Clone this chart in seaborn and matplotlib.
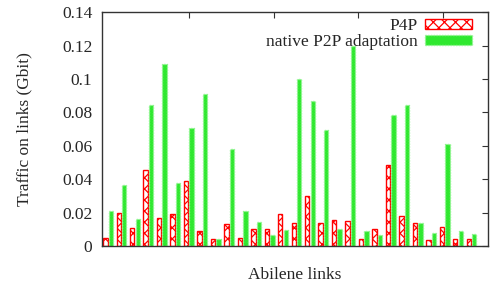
import matplotlib
matplotlib.use("Agg")
import matplotlib.pyplot as plt
import seaborn as sns
import pandas as pd
from matplotlib.patches import Patch
from matplotlib.ticker import FuncFormatter

links = [str(i) for i in range(1, 29)]
p4p = [0.005, 0.0198, 0.011, 0.0453, 0.017, 0.0194, 0.0391, 0.0092, 0.004, 0.0134,
       0.005, 0.0104, 0.0104, 0.0194, 0.014, 0.0297, 0.014, 0.0158, 0.0148, 0.0044,
       0.0104, 0.0487, 0.0178, 0.014, 0.0038, 0.0112, 0.0044, 0.0044]
p2p = [0.0208, 0.0363, 0.016, 0.0842, 0.1092, 0.0377, 0.0709, 0.0908, 0.004, 0.0583,
       0.0208, 0.0144, 0.0064, 0.0094, 0.0998, 0.0866, 0.0694, 0.010, 0.120, 0.0088,
       0.0064, 0.0782, 0.0846, 0.014, 0.008, 0.061, 0.0088, 0.007]
series = ["P4P", "native P2P adaptation"]
yticks = [0, 0.02, 0.04, 0.06, 0.08, 0.1, 0.12, 0.14]

df = pd.DataFrame({
    "link": links * 2,
    "value": p4p + p2p,
    "series": [series[0]] * len(links) + [series[1]] * len(links),
})

sns.set_style("white")
plt.rcParams["font.family"] = ["Liberation Serif", "DejaVu Serif"]
plt.rcParams["font.size"] = 12.5
plt.rcParams["hatch.linewidth"] = 0.9

RED = "#ff0000"
GREEN = "#2fe82f"
GREEN_EDGE = "#8ff58f"
FS = 12.5

fig = plt.figure(figsize=(4.94, 2.82), dpi=100)
ax = fig.add_axes([0.2065, 0.1277, 0.782, 0.8293])

sns.barplot(data=df, x="link", y="value", hue="series", hue_order=series,
            width=0.82, gap=0.2, ax=ax, legend=False, saturation=1)

for bar in ax.containers[0]:
    bar.set_facecolor("white")
    bar.set_edgecolor(RED)
    bar.set_hatch("xxx")
    bar.set_linewidth(1.0)
for bar in ax.containers[1]:
    bar.set_facecolor(GREEN)
    bar.set_edgecolor(GREEN_EDGE)
    bar.set_linestyle((0, (1, 1)))
    bar.set_linewidth(1.0)

ax.set_xlim(-0.45, 28.25)
ax.set_ylim(0, 0.14)
ax.set_yticks(yticks)
ax.yaxis.set_major_formatter(FuncFormatter(lambda v, p: "%g" % round(v, 4)))
ax.set_xticks([6.02, 12.3, 18.6, 24.85])
ax.set_xticklabels([])
ax.tick_params(axis="both", direction="in", length=4, width=0.8, color="#333333",
               top=True, right=True, labelsize=FS, pad=7)
for s in ax.spines.values():
    s.set_color("#333333")
    s.set_linewidth(1.0)

ax.set_ylabel("Traffic on links (Gbit)", fontsize=FS, labelpad=21)
ax.set_xlabel("Abilene links", fontsize=FS, labelpad=8)

handles = [
    Patch(facecolor="white", edgecolor=RED, hatch="xxx", linewidth=1.0, label=series[0]),
    Patch(facecolor=GREEN, edgecolor=GREEN_EDGE, linestyle=(0, (1, 1)), linewidth=1.0, label=series[1]),
]
ax.legend(handles=handles, loc="upper right", bbox_to_anchor=(0.987, 1.022),
          frameon=False, markerfirst=False, handlelength=2.7, handleheight=0.45,
          handletextpad=0.45, labelspacing=0.0, borderaxespad=0.25, fontsize=FS)

fig.savefig("out.png", dpi=100)
